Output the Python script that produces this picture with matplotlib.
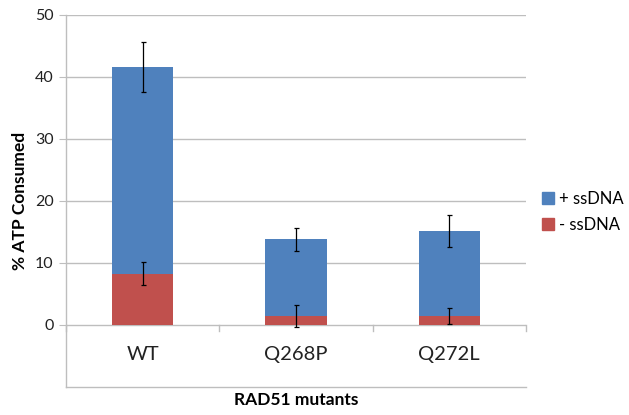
import matplotlib
matplotlib.use("Agg")
import matplotlib.pyplot as plt
from matplotlib.patches import Patch

categories = ["WT", "Q268P", "Q272L"]
plus_ssdna = [41.6, 13.8, 15.2]
plus_err = [4.1, 1.8, 2.6]
minus_ssdna = [8.3, 1.5, 1.5]
minus_err = [1.9, 1.8, 1.3]
yticks = [0, 10, 20, 30, 40, 50]

blue = "#4F81BD"
red = "#C0504D"
grid_c = "#BEBEBE"

plt.rcParams['font.family'] = ['Lato', 'DejaVu Sans']

fig = plt.figure(figsize=(6.29, 4.15), dpi=100)
ax = fig.add_axes([0.105, 0.0675, 0.731, 0.8965])

x = list(range(len(categories)))
ax.bar(x, plus_ssdna, width=0.4, color=blue, zorder=2, label="+ ssDNA")
ax.errorbar(x, plus_ssdna, yerr=plus_err, fmt='none', ecolor='black',
            elinewidth=0.9, capsize=1.8, capthick=0.9, zorder=4)
ax.bar(x, minus_ssdna, width=0.4, color=red, zorder=3, label="- ssDNA")
ax.errorbar(x, minus_ssdna, yerr=minus_err, fmt='none', ecolor='black',
            elinewidth=0.9, capsize=1.8, capthick=0.9, zorder=4)

ax.set_xlim(-0.5, 2.5)
ax.set_ylim(-10, 50)
ax.set_yticks(yticks)
ax.set_yticklabels([str(v) for v in yticks], fontsize=11.5, color='#222222')
ax.tick_params(axis='y', length=5, color=grid_c, pad=4)
ax.set_xticks([])

for v in yticks[1:]:
    ax.axhline(v, color=grid_c, lw=1, zorder=1)
ax.axhline(0, color=grid_c, lw=1, zorder=1)
for b in [-0.5, 0.5, 1.5, 2.5]:
    ax.plot([b, b], [0, -0.9], color=grid_c, lw=1, zorder=1, clip_on=False)

for s in ['top', 'right']:
    ax.spines[s].set_visible(False)
for s in ['left', 'bottom']:
    ax.spines[s].set_color(grid_c)
    ax.spines[s].set_linewidth(1)

for xi, c in zip(x, categories):
    ax.text(xi, -4.8, c, ha='center', va='center', fontsize=14.5, color='#222222')

ax.set_ylabel("% ATP Consumed", fontsize=12.5, fontweight='bold', labelpad=5)
fig.text(0.471, 0.036, "RAD51 mutants", ha='center', va='center',
         fontsize=12.5, fontweight='bold')

handles = [Patch(color=blue, label="+ ssDNA"), Patch(color=red, label="- ssDNA")]
fig.legend(handles=handles, loc='center left', bbox_to_anchor=(0.862, 0.49),
           frameon=False, fontsize=12, handlelength=0.7, handleheight=0.7,
           handletextpad=0.3, labelspacing=0.6, borderpad=0, borderaxespad=0)

fig.savefig("out.png", dpi=100)
